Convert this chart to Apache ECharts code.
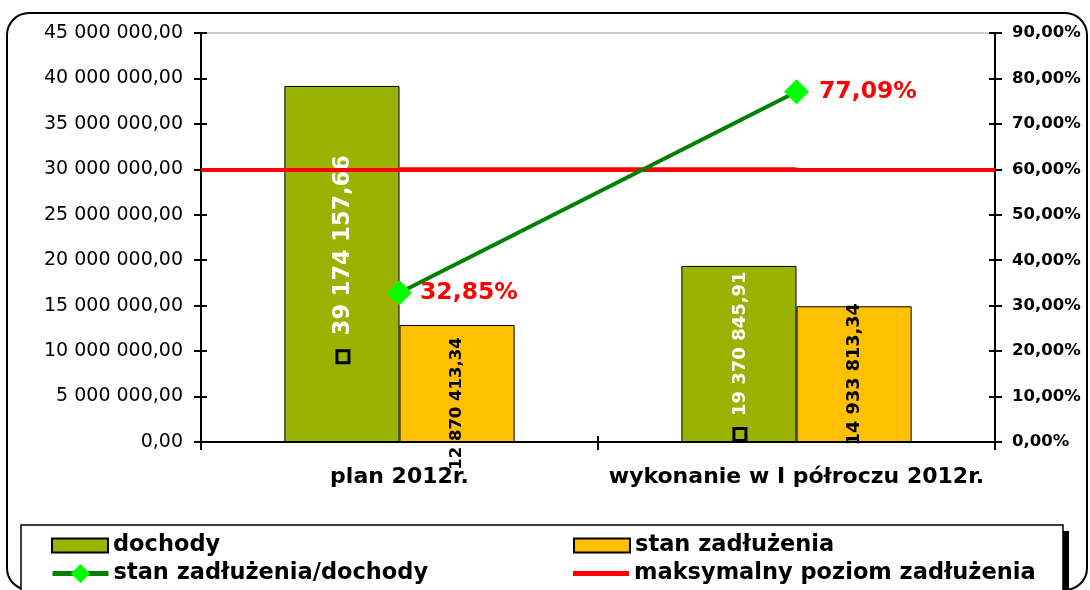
<!DOCTYPE html>
<html><head><meta charset="utf-8">
<script src="https://cdn.jsdelivr.net/npm/echarts@6/dist/echarts.min.js"></script>
<style>html,body{margin:0;padding:0;background:#fff}#c{width:1090px;height:590px}</style>
</head><body><div id="c"></div>
<script>
const categories = ['plan 2012r.', 'wykonanie w I półroczu 2012r.'];
const dochody = [39174157.66, 19370845.91];
const zadluzenie = [12870413.34, 14933813.34];
const ratio = [32.85, 77.09];
const maxLevel = [60, 60];
const leftTicks = {min: 0, max: 45000000, interval: 5000000};
const rightTicks = {min: 0, max: 90, interval: 10};

function fmtPL(v, dec) {
  const s = v.toFixed(dec).split('.');
  const int = s[0].replace(/\B(?=(\d{3})+(?!\d))/g, ' ');
  return dec ? int + ',' + s[1] : int;
}
const FONT = 'DejaVu Sans';
const chart = echarts.init(document.getElementById('c'), null, {renderer: 'canvas'});

// label offsets are in the rotated (90deg) frame: [-dy, dx]
const greenLabelCfg = [{fontSize: 22.4, offset: [5, 1]}, {fontSize: 18, offset: [-2, 1]}];
const orangeLabelCfg = [{fontSize: 16.5, offset: [-20, 0]}, {fontSize: 17.7, offset: [0, 0]}];
const ratioLabelCfg = [{distance: 8}, {distance: 10}];

const legendText = {fontFamily: FONT, fontWeight: 'bold', fontSize: 22.5, lineHeight: 22, color: '#000'};
function mkLegend(item, left, top, extra) {
  return Object.assign({data: [item], orient: 'vertical', left: left, top: top, padding: 0,
    itemWidth: 56, itemHeight: 14, textStyle: legendText}, extra || {});
}

const option = {
  animation: false,
  backgroundColor: '#fff',
  textStyle: {fontFamily: FONT},
  graphic: [
    {type: 'rect', z: -10, shape: {x: 7, y: 13, width: 1080, height: 577, r: 22}, style: {fill: '#fff', stroke: '#000', lineWidth: 2}},
    {type: 'rect', z: -9, shape: {x: 27, y: 531, width: 1042, height: 70}, style: {fill: '#000'}},
    {type: 'rect', z: -8, shape: {x: 21, y: 525, width: 1042, height: 70}, style: {fill: '#fff', stroke: '#000', lineWidth: 1.5}}
  ],
  grid: {left: 201, right: 95, top: 33, bottom: 148, show: true, borderColor: '#999', borderWidth: 1, backgroundColor: '#fff'},
  legend: [
    mkLegend({name: 'dochody', icon: 'rect'}, 51, 534),
    mkLegend({name: 'stan zadłużenia', icon: 'rect'}, 573, 534),
    mkLegend('stan zadłużenia/dochody', 50, 562, {itemHeight: 24, lineStyle: {width: 5}}),
    mkLegend({name: 'maksymalny poziom zadłużenia', icon: 'path://M0,0L56,0L56,5L0,5Z'}, 573, 562)
  ],
  xAxis: [
    {type: 'category', data: categories, axisLine: {lineStyle: {color: '#000', width: 2}},
     axisTick: {show: true, length: 8, lineStyle: {color: '#000', width: 2}},
     axisLabel: {interval: 0, fontFamily: FONT, fontWeight: 'bold', fontSize: 22, color: '#000', margin: 24}},
    {type: 'category', data: categories, position: 'bottom', axisLine: {show: false},
     axisTick: {show: true, inside: true, length: 6, lineStyle: {color: '#000', width: 2}}, axisLabel: {show: false}}
  ],
  yAxis: [
    {type: 'value', min: leftTicks.min, max: leftTicks.max, interval: leftTicks.interval, position: 'left',
     axisLine: {show: true, lineStyle: {color: '#000', width: 2}}, axisTick: {show: true, length: 7, lineStyle: {color: '#000', width: 2}},
     splitLine: {show: false},
     axisLabel: {fontFamily: FONT, fontSize: 19, color: '#000', margin: 18, formatter: v => fmtPL(v, 2)}},
    {type: 'value', min: rightTicks.min, max: rightTicks.max, interval: rightTicks.interval, position: 'right',
     axisLine: {show: true, lineStyle: {color: '#000', width: 2}}, axisTick: {show: true, length: 7, lineStyle: {color: '#000', width: 2}},
     splitLine: {show: false},
     axisLabel: {fontFamily: FONT, fontWeight: 'bold', fontSize: 16.5, color: '#000', margin: 17, formatter: v => fmtPL(v, 2) + '%'}},
    {type: 'value', min: leftTicks.min, max: leftTicks.max, interval: leftTicks.interval, position: 'left', axisLine: {show: false},
     axisTick: {show: true, inside: true, length: 6, lineStyle: {color: '#000', width: 2}}, axisLabel: {show: false}, splitLine: {show: false}},
    {type: 'value', min: rightTicks.min, max: rightTicks.max, interval: rightTicks.interval, position: 'right', axisLine: {show: false},
     axisTick: {show: true, inside: true, length: 6, lineStyle: {color: '#000', width: 2}}, axisLabel: {show: false}, splitLine: {show: false}}
  ],
  series: [
    {name: 'dochody', type: 'bar', barGap: '0%', barCategoryGap: '42%',
     itemStyle: {color: '#99b300', borderColor: '#000', borderWidth: 1},
     data: dochody.map((v, i) => ({value: v, label: {fontSize: greenLabelCfg[i].fontSize, offset: greenLabelCfg[i].offset,
        rich: {v: {fontFamily: FONT, fontWeight: 'bold', fontSize: greenLabelCfg[i].fontSize, color: '#fff'}}}})),
     label: {show: true, position: 'inside', rotate: 90, color: '#fff', fontFamily: FONT, fontWeight: 'bold',
       formatter: p => '{sq|}  {v|' + fmtPL(p.value, 2) + '}',
       rich: {sq: {width: 12, height: 12, borderColor: '#000', borderWidth: 1.5, backgroundColor: 'transparent'}}}},
    {name: 'stan zadłużenia', type: 'bar',
     itemStyle: {color: '#ffc000', borderColor: '#000', borderWidth: 1},
     data: zadluzenie.map((v, i) => ({value: v, label: {fontSize: orangeLabelCfg[i].fontSize, offset: orangeLabelCfg[i].offset}})),
     label: {show: true, position: 'inside', rotate: 90, color: '#000', fontFamily: FONT, fontWeight: 'bold',
       formatter: p => fmtPL(p.value, 2)}},
    {name: 'stan zadłużenia/dochody', type: 'line', yAxisIndex: 1, z: 5,
     lineStyle: {color: '#008000', width: 4}, itemStyle: {color: '#00ff00'},
     symbol: 'diamond', symbolSize: 25,
     data: ratio.map((v, i) => ({value: v, label: {distance: ratioLabelCfg[i].distance}})),
     label: {show: true, position: 'right', color: '#ff0000', fontFamily: FONT, fontWeight: 'bold', fontSize: 23.5,
       formatter: p => fmtPL(p.value, 2) + '%'}},
    {name: 'maksymalny poziom zadłużenia', type: 'line', yAxisIndex: 1, z: 3, symbol: 'none',
     lineStyle: {color: '#ff0000', width: 4}, itemStyle: {color: '#ff0000'},
     data: maxLevel,
     markLine: {silent: true, symbol: 'none', label: {show: false}, lineStyle: {color: '#ff0000', width: 4, type: 'solid'},
       data: [{yAxis: maxLevel[0]}]}}
  ]
};
chart.setOption(option);
</script></body></html>
